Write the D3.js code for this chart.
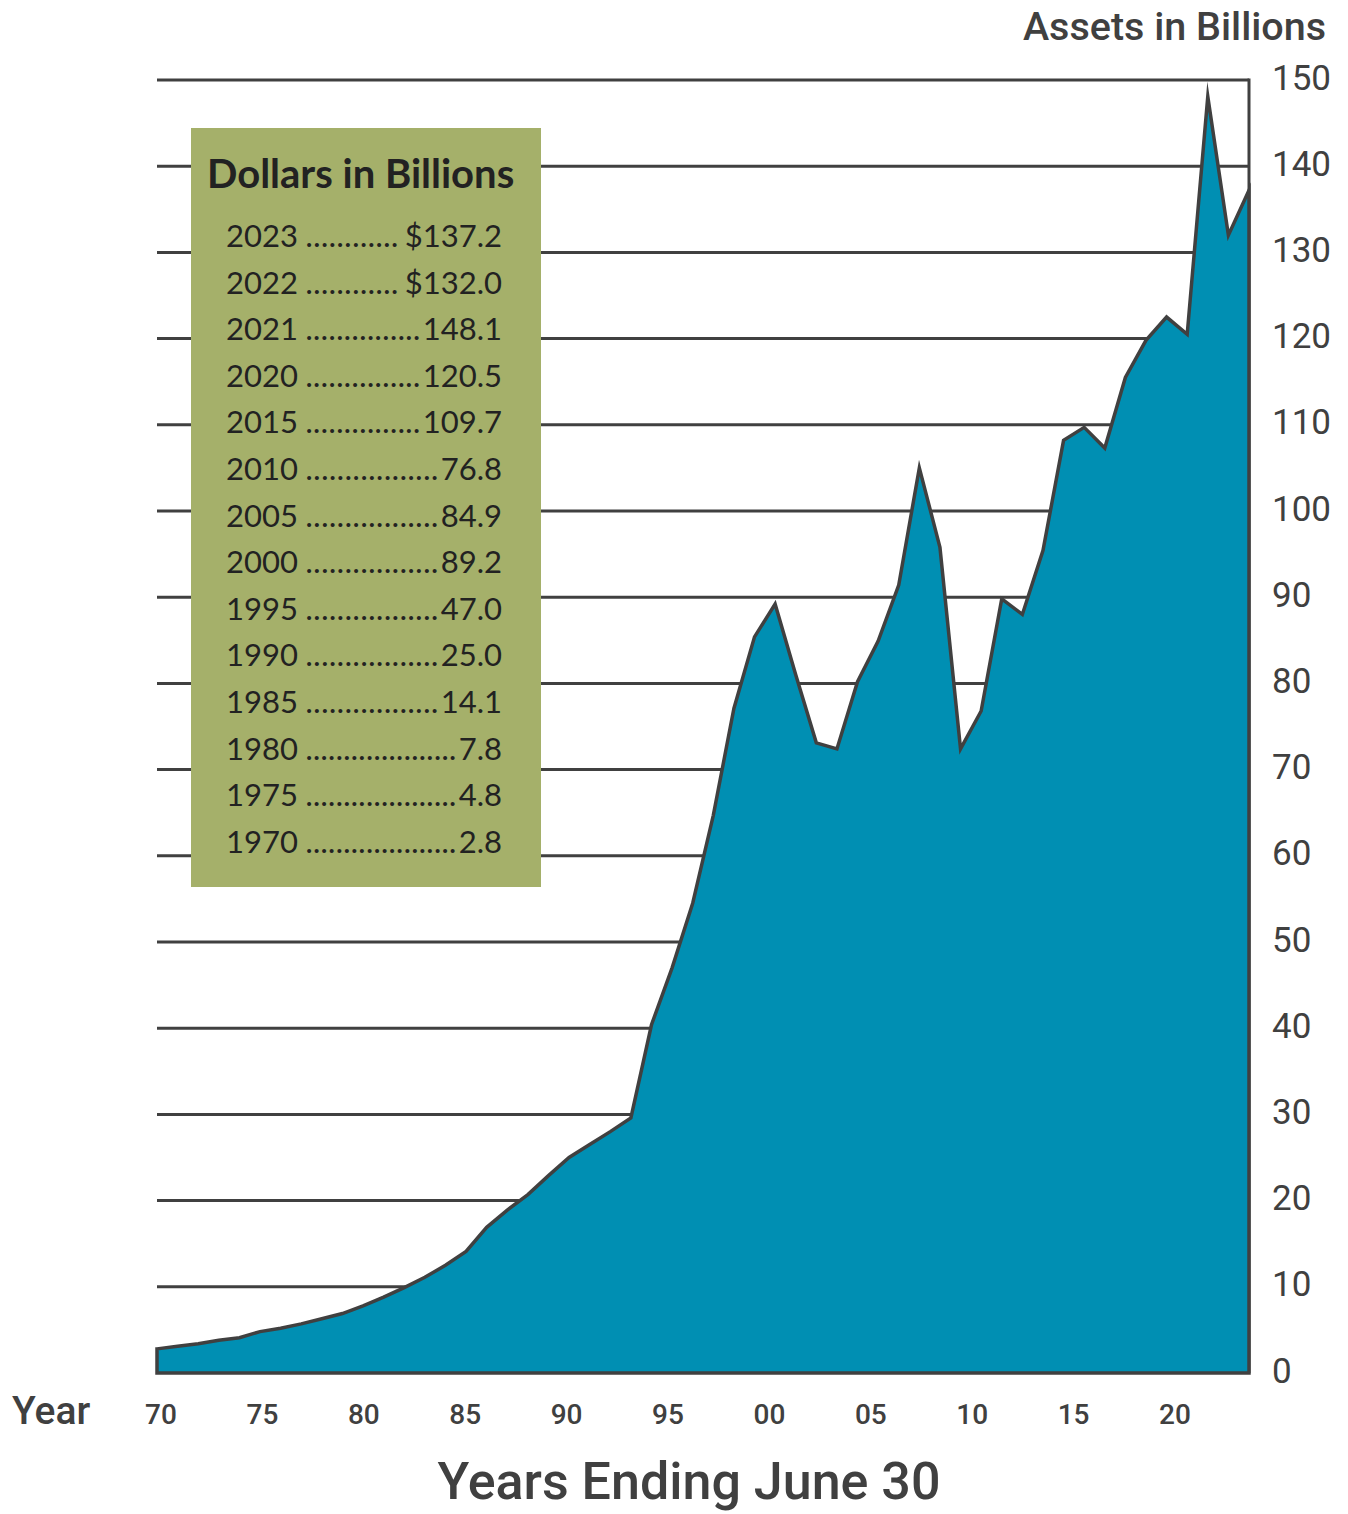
<!DOCTYPE html>
<html>
<head>
<meta charset="utf-8">
<script src="https://cdn.jsdelivr.net/npm/d3@7"></script>
<style>
  html, body { margin: 0; padding: 0; background: #ffffff; }
  svg { display: block; }
</style>
</head>
<body>
<svg id="chart" width="1348" height="1514"></svg>
<script>
// ---- data ----
const years = [1970,1971,1972,1973,1974,1975,1976,1977,1978,1979,
               1980,1981,1982,1983,1984,1985,1986,1987,1988,1989,
               1990,1991,1992,1993,1994,1995,1996,1997,1998,1999,
               2000,2001,2002,2003,2004,2005,2006,2007,2008,2009,
               2010,2011,2012,2013,2014,2015,2016,2017,2018,2019,
               2020,2021,2022,2023];
const assets = [2.8,3.1,3.4,3.8,4.1,4.8,5.2,5.7,6.3,6.9,
                7.8,8.8,9.9,11.1,12.5,14.1,16.9,18.9,20.7,22.9,
                25.0,26.5,28.0,29.6,40.4,47.0,54.5,64.7,77.1,85.4,
                89.2,81.0,73.1,72.4,80.2,84.9,91.4,105.0,95.8,72.4,
                76.8,89.8,88.0,95.4,108.2,109.7,107.3,115.5,119.8,122.5,
                120.5,148.1,132.0,137.2];
const yTicks = [0,10,20,30,40,50,60,70,80,90,100,110,120,130,140,150];
const xTickYears = [1970,1975,1980,1985,1990,1995,2000,2005,2010,2015,2020];
const xTickLabels = ["70","75","80","85","90","95","00","05","10","15","20"];
const legendYears = ["2023","2022","2021","2020","2015","2010","2005","2000","1995","1990","1985","1980","1975","1970"];
const legendValues = ["$137.2","$132.0","148.1","120.5","109.7","76.8","84.9","89.2","47.0","25.0","14.1","7.8","4.8","2.8"];

// ---- layout ----
const svg = d3.select("#chart");
const x = d3.scaleLinear().domain([1970, 2023]).range([157, 1249]);
const y = d3.scaleLinear().domain([0, 150]).range([1373, 80]);
const xLabel = d3.scaleLinear().domain([1970, 2020]).range([161, 1175]);

const ink = "#404040";
const teal = "#008fb3";
const green = "#a5b06a";

// gridlines (behind area)
svg.append("g").selectAll("line").data(yTicks.filter(d => d > 0)).join("line")
  .attr("x1", x(1970)).attr("x2", x(2023))
  .attr("y1", d => y(d)).attr("y2", d => y(d))
  .attr("stroke", ink).attr("stroke-width", 3);

// right frame
svg.append("line")
  .attr("x1", x(2023)).attr("x2", x(2023))
  .attr("y1", y(150) - 1.5).attr("y2", y(0))
  .attr("stroke", ink).attr("stroke-width", 3);

// area
const data = years.map((yr, i) => ({ yr, v: assets[i] }));
const area = d3.area().x(d => x(d.yr)).y0(y(0)).y1(d => y(d.v));
svg.append("path").datum(data)
  .attr("d", area)
  .attr("fill", teal)
  .attr("stroke", ink).attr("stroke-width", 3.5)
  .attr("stroke-linejoin", "miter").attr("stroke-miterlimit", 10);

// y axis labels (right)
svg.append("g").selectAll("text").data(yTicks).join("text")
  .attr("x", 1272).attr("y", d => y(d) - 3)
  .attr("dy", "0.36em")
  .attr("font-family", "Roboto").attr("font-size", 35).attr("font-weight", 400)
  .attr("fill", ink)
  .text(d => d);

svg.append("text")
  .attr("x", 1326).attr("y", 40)
  .attr("text-anchor", "end")
  .attr("font-family", "Roboto").attr("font-size", 39.5).attr("font-weight", 500)
  .attr("fill", ink)
  .text("Assets in Billions");

// x axis labels
svg.append("g").selectAll("text").data(xTickYears).join("text")
  .attr("x", d => xLabel(d)).attr("y", 1424)
  .attr("text-anchor", "middle")
  .attr("font-family", "Roboto").attr("font-size", 28).attr("font-weight", 500)
  .attr("fill", ink)
  .text((d, i) => xTickLabels[i]);

svg.append("text")
  .attr("x", 12).attr("y", 1424)
  .attr("font-family", "Roboto").attr("font-size", 39).attr("font-weight", 500)
  .attr("fill", ink)
  .text("Year");

svg.append("text")
  .attr("x", 689).attr("y", 1499)
  .attr("text-anchor", "middle")
  .attr("font-family", "Roboto").attr("font-size", 52).attr("font-weight", 500)
  .attr("fill", ink)
  .text("Years Ending June 30");

// legend box
const lg = svg.append("g");
lg.append("rect")
  .attr("x", 191).attr("y", 128).attr("width", 350).attr("height", 759)
  .attr("fill", green);
lg.append("text")
  .attr("x", 207).attr("y", 188)
  .attr("font-family", "Lato").attr("font-size", 40).attr("font-weight", 700)
  .attr("fill", "#222222")
  .text("Dollars in Billions");

const rowX0 = 226, rowX1 = 502, rowY0 = 247, rowStep = 46.6;
legendYears.forEach((yr, i) => {
  const by = rowY0 + i * rowStep;
  const t1 = lg.append("text").attr("x", rowX0).attr("y", by)
    .attr("font-family", "Lato").attr("font-size", 31).attr("fill", "#222222").text(yr);
  const t2 = lg.append("text").attr("x", rowX1).attr("y", by).attr("text-anchor", "end")
    .attr("font-family", "Lato").attr("font-size", 31).attr("fill", "#222222").text(legendValues[i]);
  const w1 = t1.node().getComputedTextLength();
  const w2 = t2.node().getComputedTextLength();
  const start = rowX0 + w1 + 8;
  const gapAfter = legendValues[i].startsWith("$") ? 7 : 3;
  const end = rowX1 - w2 - gapAfter;
  const len = end - start;
  const n = Math.max(1, Math.round(len / 7.6));
  lg.append("text").attr("x", start).attr("y", by)
    .attr("font-family", "Lato").attr("font-size", 26).attr("font-weight", 700)
    .attr("fill", "#222222")
    .attr("textLength", len).attr("lengthAdjust", "spacing")
    .text(".".repeat(n));
});
</script>
</body>
</html>
